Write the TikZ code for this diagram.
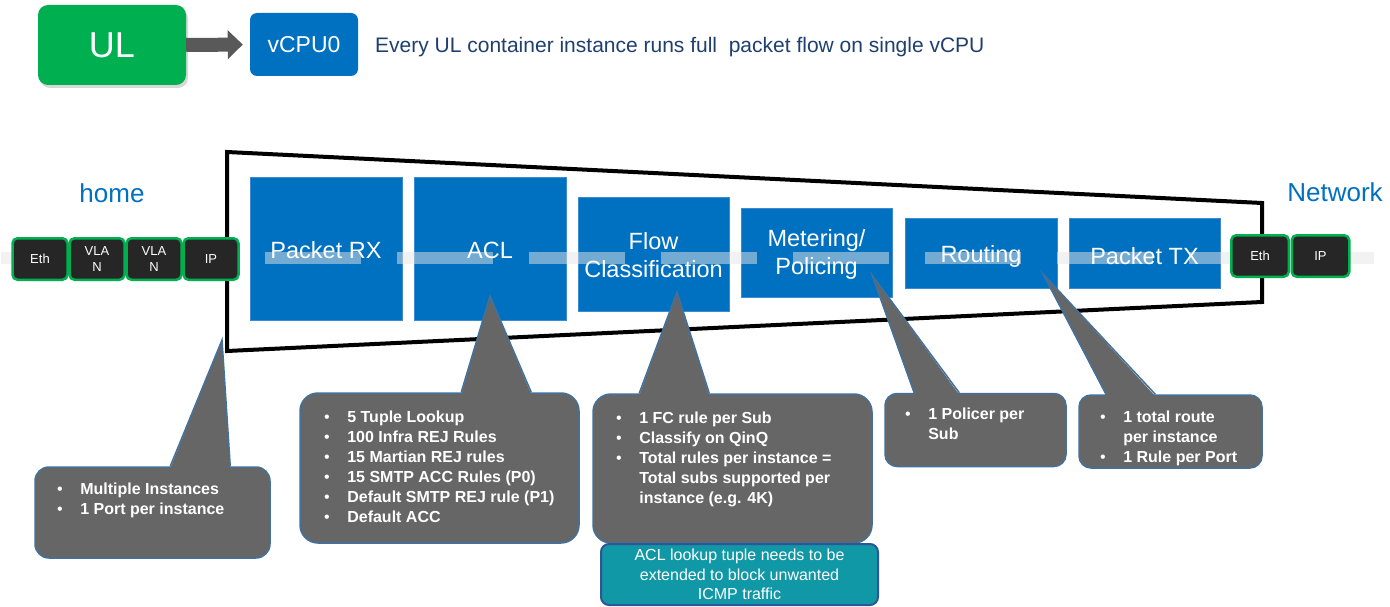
\documentclass[tikz,border=0pt]{standalone}
\usepackage{fontspec}
\setmainfont{Liberation Sans}
\usetikzlibrary{shadows,arrows.meta,calc}

\definecolor{ulgreen}{HTML}{00B050}
\definecolor{cpublue}{HTML}{0070C0}
\definecolor{stageedge}{HTML}{3C8AD0}
\definecolor{arrowgray}{HTML}{595959}
\definecolor{navytext}{HTML}{1F3F6E}
\definecolor{hdrfill}{HTML}{262626}
\definecolor{callfill}{HTML}{666666}
\definecolor{calledge}{HTML}{41719C}
\definecolor{tealfill}{HTML}{1098A6}
\definecolor{tealedge}{HTML}{2F5597}
\definecolor{flowbar}{HTML}{E6E6E6}

\tikzset{
  ulbox/.style={fill=ulgreen, rounded corners=10pt, minimum width=148pt, minimum height=80pt,
    text=white, font=\fontsize{36}{40}\selectfont, inner sep=0pt,
    drop shadow={opacity=0.3, shadow xshift=2pt, shadow yshift=-3pt}},
  cpubox/.style={fill=cpublue, rounded corners=7pt, minimum width=108pt, minimum height=63pt,
    text=white, font=\fontsize{23}{26}\selectfont, inner sep=0pt},
  blockarrow/.style={draw=arrowgray, line width=14pt, -{Triangle[length=15pt,width=28pt]}, shorten >=7pt},
  sidelabel/.style={text=cpublue, font=\fontsize{26}{30}\selectfont, inner sep=0pt},
  stage/.style={fill=cpublue, draw=stageedge, line width=0.6pt, text=white,
    font=\fontsize{23.5}{28}\selectfont, align=center, inner sep=0pt},
  stagetext/.style={text=white, font=\fontsize{23.5}{28}\selectfont, align=center, inner sep=0pt},
  hdr/.style={fill=hdrfill, draw=ulgreen, line width=2.5pt, rounded corners=5pt, text=white,
    font=\fontsize{13}{15.5}\selectfont, align=center, inner sep=0pt,
    minimum height=41.5pt},
  callbox/.style={fill=callfill, draw=calledge, line width=1.5pt, inner sep=0pt},
  callnote/.style={text=white, font=\fontsize{16}{20}\selectfont\bfseries, inner sep=0pt,
    anchor=north west},
  pointerfill/.style={fill=callfill},
  pointeredge/.style={draw=calledge, line width=1.5pt, line join=miter},
  tealbox/.style={fill=tealfill, draw=tealedge, line width=2pt, rounded corners=8pt,
    text=white, font=\fontsize{16}{19.5}\selectfont, align=center, inner sep=0pt,
    minimum width=277pt, minimum height=61pt},
}

\newcommand{\bul}{{\mdseries\textbullet}}
\newenvironment{notelist}{\begin{tabular}{@{}l@{\hspace{17.5pt}}l@{}}}{\end{tabular}}

\begin{document}
\begin{tikzpicture}[x=1pt,y=-1pt]
\useasboundingbox (0,0) rectangle (1390,607);
\fill[white] (0,0) rectangle (1390,607);

% container and its CPU
\node[ulbox] (ul) at (112,45) {UL};
\node[cpubox] (cpu) at (304,44.5) {vCPU0};
\draw[blockarrow] (ul.east) -- (cpu.west);
\node[anchor=west, text=navytext, font=\fontsize{21}{24}\selectfont, inner sep=0pt] (caption) at (375,47)
  {Every UL container instance runs full~ packet flow on single vCPU};

% the two sides
\node[sidelabel] (home) at (112,193) {home};
\node[sidelabel] (network) at (1335,192) {Network};

% pipeline frame
\draw[line width=4pt, line join=miter] (227,152) -- (1262,203) -- (1262,302) -- (227,351) -- cycle;

% pipeline stages
\node[stage, minimum width=152pt, minimum height=143pt] (rx)    at (326,248.5) {};
\node[stage, minimum width=152pt, minimum height=143pt] (acl)   at (490,248.5) {};
\node[stage, minimum width=151pt, minimum height=114pt] (flow)  at (653.5,254) {};
\node[stage, minimum width=151pt, minimum height=89pt]  (meter) at (816.5,252.5) {};
\node[stage, minimum width=152pt, minimum height=70pt]  (route) at (981,253) {};
\node[stage, minimum width=151pt, minimum height=70pt]  (tx)    at (1144.5,253) {};

% packet path through the stages
\draw[flowbar, opacity=0.5, line width=12pt, dash pattern=on 96pt off 36pt] (1,258) -- (1374,258);

% stage names
\node[stagetext] (rxname)    at ([yshift=-2pt]rx.center)    {Packet RX};
\node[stagetext] (aclname)   at ([yshift=-2pt]acl.center)   {ACL};
\node[stagetext] (flowname)  at ([yshift=-1.5pt]flow.center)  {Flow\\Classification};
\node[stagetext] (metername) at ([yshift=-2pt]meter.center) {Metering/\\Policing};
\node[stagetext] (routename) at ([yshift=-3pt]route.center) {Routing};
\node[stagetext] (txname)    at ([yshift=-3pt]tx.center)    {Packet TX};

% incoming packet headers
\node[hdr, minimum width=55pt] (ineth)  at (40,259)  {Eth};
\node[hdr, minimum width=55pt] (invlan) at (97,259)  {VLA\\N};
\node[hdr, minimum width=55pt] (inqinq) at (154,259) {VLA\\N};
\node[hdr, minimum width=55pt] (inip)   at (211,259) {IP};
% outgoing packet headers
\node[hdr, minimum width=57.5pt] (outeth) at (1260,256)   {Eth};
\node[hdr, minimum width=57.5pt] (outip)  at (1320.5,256) {IP};

% callout boxes
\node[callbox, rounded corners=14pt, minimum width=235pt, minimum height=91pt]  (portnote)  at (152.5,512.5) {};
\node[callbox, rounded corners=18pt, minimum width=279pt, minimum height=150pt] (aclnote)   at (439.5,468) {};
\node[callbox, rounded corners=18pt, minimum width=279pt, minimum height=149pt] (flownote)  at (732.5,468.5) {};
\node[callbox, rounded corners=12pt, minimum width=181pt, minimum height=73pt]  (meternote) at (975.5,430) {};
\node[callbox, rounded corners=12pt, minimum width=183pt, minimum height=73pt]  (routenote) at (1170.5,431.5) {};

% pointer tips
\coordinate (porttip)  at (222,340);
\coordinate (acltip)   at (490,296);
\coordinate (flowtip)  at (677,292);
\coordinate (metertip) at (872,275);
\coordinate (routetip) at (1043,274);

% pointers: base offsets measured from each box's north west corner
\foreach \cbox/\tip/\a/\b in {portnote/porttip/136/196, aclnote/acltip/162/232,
    flownote/flowtip/47/117, meternote/metertip/30/75, routenote/routetip/28/77}{
  \fill[pointerfill] ([xshift=\a pt, yshift=-2pt]\cbox.north west) -- (\tip)
    -- ([xshift=\b pt, yshift=-2pt]\cbox.north west) -- cycle;
  \draw[pointeredge] ([xshift=\a pt]\cbox.north west) -- (\tip) -- ([xshift=\b pt]\cbox.north west);
}

% callout texts
\node[callnote] (porttext) at (57,480) {\begin{notelist}
  \bul & Multiple Instances\\
  \bul & 1 Port per instance
\end{notelist}};
\node[callnote] (acltext) at (324,408) {\begin{notelist}
  \bul & 5 Tuple Lookup\\
  \bul & 100 Infra REJ Rules\\
  \bul & 15 Martian REJ rules\\
  \bul & 15 SMTP ACC Rules (P0)\\
  \bul & Default SMTP REJ rule (P1)\\
  \bul & Default ACC
\end{notelist}};
\node[callnote] (flowtext) at (616,409) {\begin{notelist}
  \bul & 1 FC rule per Sub\\
  \bul & Classify on QinQ\\
  \bul & Total rules per instance =\\
       & Total subs supported per\\
       & instance (e.g. 4K)
\end{notelist}};
\node[callnote] (metertext) at (905,405) {\begin{notelist}
  \bul & 1 Policer per\\
       & Sub
\end{notelist}};
\node[callnote] (routetext) at (1100,408) {\begin{notelist}
  \bul & 1 total route\\
       & per instance\\
  \bul & 1 Rule per Port
\end{notelist}};

% remark under the flow classification callout
\node[tealbox] (aclremark) at (739.5,574.5)
  {ACL lookup tuple needs to be\\extended to block unwanted\\ICMP traffic};
\end{tikzpicture}
\end{document}
